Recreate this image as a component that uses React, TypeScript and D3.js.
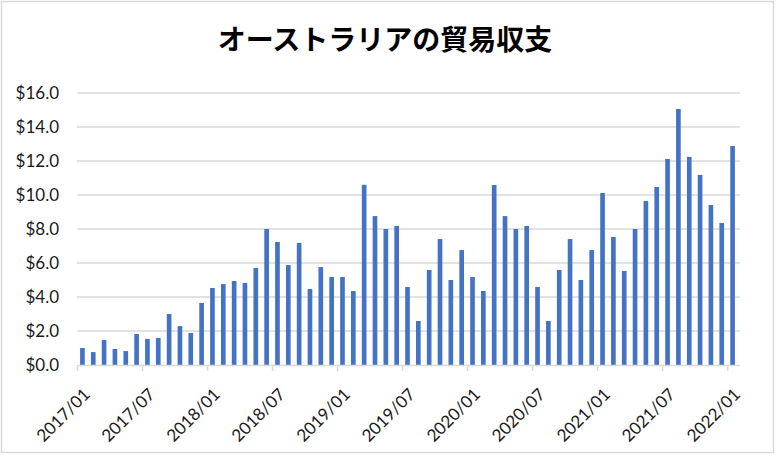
import React, { useEffect, useRef } from 'react';
import * as d3 from 'd3';

const title = 'オーストラリアの貿易収支';

// monthly balance, 2017/01 .. 2022/01 (billions)
const values2017 = [1.0, 0.76, 1.47, 0.94, 0.82, 1.82, 1.53, 1.59, 3.0, 2.29, 1.88, 3.65];
const values2018 = [4.53, 4.76, 4.94, 4.82, 5.71, 8.0, 7.24, 5.88, 7.18, 4.47, 5.76, 5.18];
const values2019 = [5.18, 4.35, 10.6, 8.76, 8.0, 8.18, 4.59, 2.59, 5.59, 7.41, 5.0, 6.76];
const values2020 = [5.18, 4.35, 10.59, 8.76, 8.0, 8.18, 4.59, 2.59, 5.59, 7.41, 5.0, 6.76];
const values2021 = [10.12, 7.53, 5.53, 8.0, 9.65, 10.47, 12.12, 15.06, 12.24, 11.18, 9.41, 8.35];
const values2022 = [12.88];

const years = [2017, 2018, 2019, 2020, 2021, 2022];
const yTicks = [0, 2, 4, 6, 8, 10, 12, 14, 16];
const xTickLabels = [
  '2017/01', '2017/07', '2018/01', '2018/07', '2019/01', '2019/07',
  '2020/01', '2020/07', '2021/01', '2021/07', '2022/01',
];

const series = [values2017, values2018, values2019, values2020, values2021, values2022];

const App: React.FC = () => {
  const chartRef = useRef<SVGSVGElement | null>(null);

  useEffect(() => {
    document.body.style.margin = '0';

    const data = series.flatMap((vals, yi) =>
      vals.map((v, mi) => ({
        key: `${years[yi]}/${String(mi + 1).padStart(2, '0')}`,
        value: v,
      }))
    );

    const width = 776;
    const height = 456;
    const margin = { top: 93, right: 36, bottom: 91, left: 77 };
    const font = "Lato, 'Open Sans', 'Noto Sans', sans-serif";
    const textColor = '#1a1a1a';

    const svg = d3.select(chartRef.current);
    svg.selectAll('*').remove();
    svg.attr('width', width).attr('height', height);

    // chart frame
    svg
      .append('rect')
      .attr('x', 1.5)
      .attr('y', 1.5)
      .attr('width', width - 4)
      .attr('height', height - 5)
      .attr('fill', 'white')
      .attr('stroke', '#d9d9d9')
      .attr('stroke-width', 1.5);

    svg
      .append('text')
      .attr('x', 385)
      .attr('y', 50)
      .attr('text-anchor', 'middle')
      .attr('font-family', "'Noto Sans CJK JP', sans-serif")
      .attr('font-weight', 700)
      .attr('font-size', 28)
      .attr('fill', '#000')
      .text(title);

    const plotRight = 738;
    const x = d3
      .scaleBand()
      .domain(data.map((d) => d.key))
      .range([margin.left, plotRight])
      .paddingInner(0.57)
      .paddingOuter(0.285);

    // month index scale, for ticks at category edges
    const xi = d3.scaleLinear().domain([0, data.length]).range([margin.left, plotRight]);

    const y = d3
      .scaleLinear()
      .domain([0, 16])
      .range([height - margin.bottom, margin.top]);

    // gridlines
    svg
      .append('g')
      .selectAll('line')
      .data(yTicks.filter((t) => t > 0))
      .join('line')
      .attr('x1', margin.left)
      .attr('x2', 740)
      .attr('y1', (d) => y(d))
      .attr('y2', (d) => y(d))
      .attr('stroke', '#d9d9d9')
      .attr('stroke-width', 1.5);

    // y axis labels
    svg
      .append('g')
      .attr('transform', `translate(${margin.left},0)`)
      .call(
        d3
          .axisLeft(y)
          .tickValues(yTicks)
          .tickSize(0)
          .tickPadding(18)
          .tickFormat((d) => `$${(d as number).toFixed(1)}`)
      )
      .call((g) => g.select('.domain').remove())
      .call((g) =>
        g
          .selectAll('.tick text')
          .attr('font-family', font)
          .attr('font-size', 17)
          .attr('fill', textColor)
      );

    // bars
    svg
      .append('g')
      .attr('fill', '#4472c4')
      .selectAll('rect')
      .data(data)
      .join('rect')
      .attr('x', (d) => x(d.key)!)
      .attr('y', (d) => y(d.value))
      .attr('height', (d) => y(0) - y(d.value))
      .attr('width', x.bandwidth());

    // x axis
    const tickIdx = xTickLabels.map((l) => data.findIndex((d) => d.key === l));
    svg
      .append('g')
      .attr('transform', `translate(0,${y(0)})`)
      .call(
        d3
          .axisBottom(xi)
          .tickValues(tickIdx)
          .tickSize(6)
          .tickSizeOuter(0)
          .tickFormat((_, i) => xTickLabels[i])
      )
      .call((g) =>
        g.select('.domain').attr('stroke', '#d9d9d9').attr('stroke-width', 1.5).attr('d', `M${margin.left},0.5H740`)
      )
      .call((g) => g.selectAll('.tick line').attr('stroke', '#d9d9d9').attr('stroke-width', 1.5))
      .call((g) =>
        g
          .selectAll('.tick text')
          .attr('font-family', font)
          .attr('font-size', 17)
          .attr('fill', textColor)
          .attr('text-anchor', 'end')
          .attr('dy', '0.35em')
          .attr('transform', 'translate(3,20) rotate(-45)')
      );
  }, []);

  return <svg ref={chartRef} style={{ display: 'block' }}></svg>;
};

export default App;
